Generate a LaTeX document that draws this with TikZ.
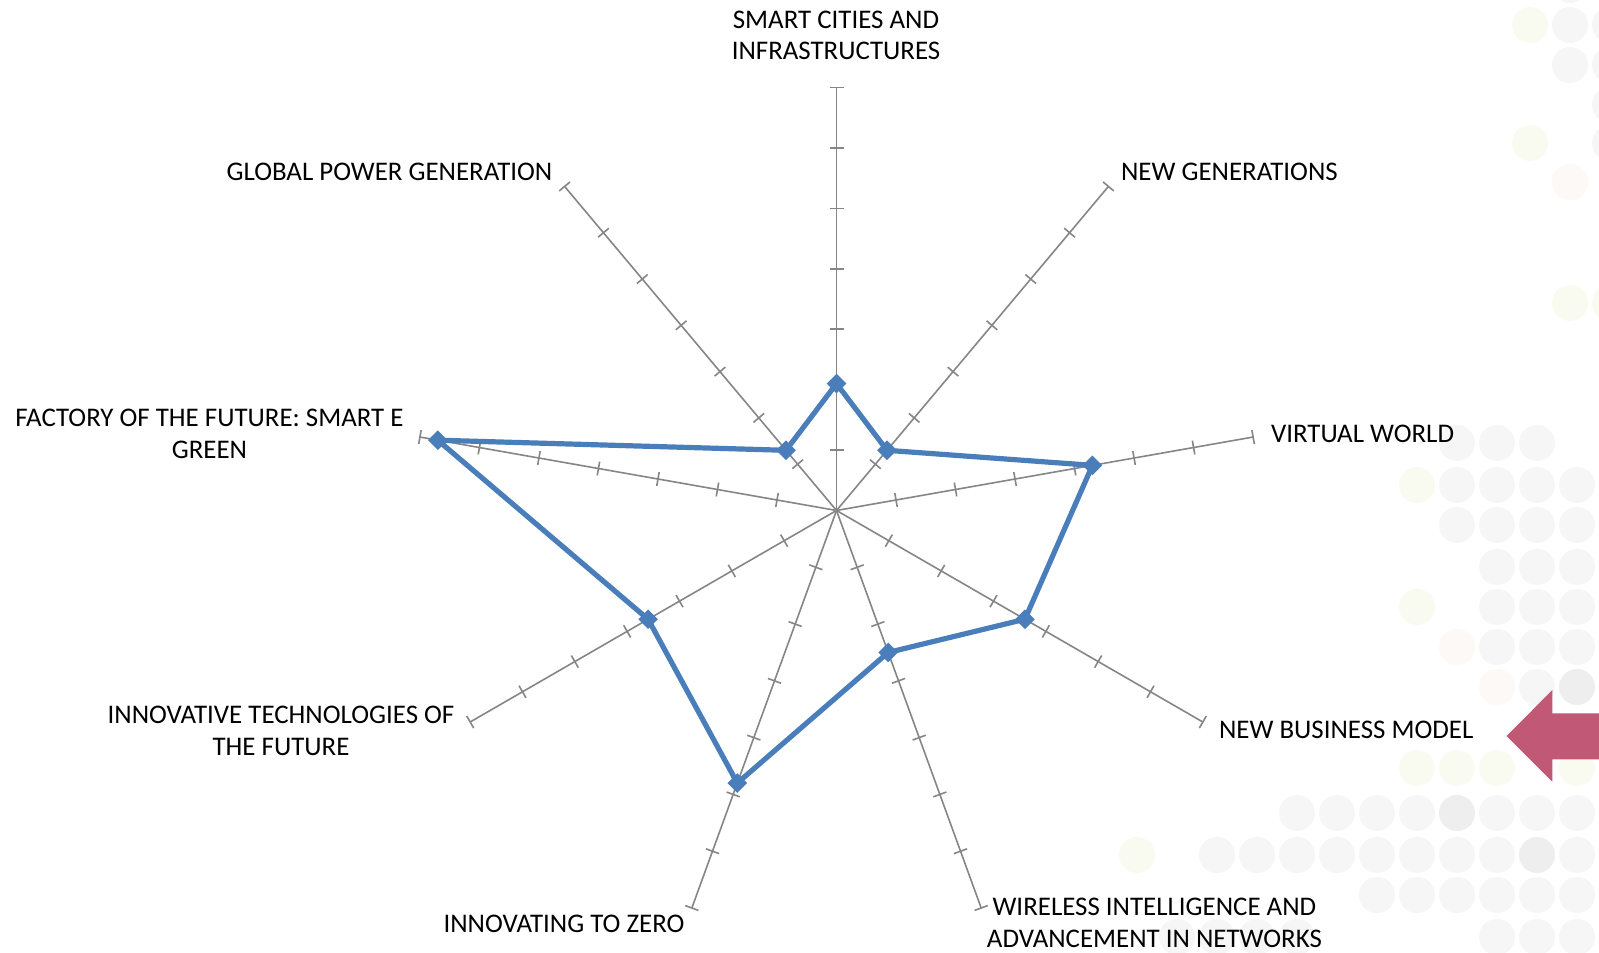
\documentclass[tikz,border=0pt]{standalone}
\usepackage{fontspec}
\setmainfont{Carlito}
\usetikzlibrary{shapes.geometric}

\definecolor{axisgray}{RGB}{134,134,134}
\definecolor{serieblue}{RGB}{74,126,187}
\definecolor{arrowpink}{RGB}{192,88,118}
\definecolor{dotgray}{RGB}{246,246,246}
\definecolor{dotdark}{RGB}{238,238,238}
\definecolor{dotyellow}{RGB}{250,251,240}
\definecolor{dotpink}{RGB}{253,249,246}

\begin{document}
\begin{tikzpicture}[x=0.5pt,y=0.5pt,
        axis/.style={draw=axisgray, line width=0.8pt},
        series/.style={draw=serieblue, line width=2.6pt, line join=round},
        marker/.style={diamond, fill=serieblue, inner sep=0pt, minimum size=10pt},
        lab/.style={font=\fontsize{13.45}{15.8}\selectfont, align=center, inner sep=0pt}]

            \fill[white] (0,0) rectangle (1599,952);
            \useasboundingbox (0,0) rectangle (1599,952);

            \foreach \dx/\dy/\dc in {1530/25/dotyellow, 1570/25/dotgray, 1610/25/dotgray, 1570/-15/dotgray,
                1570/65/dotgray, 1610/65/dotgray, 1610/105/dotgray, 1530/143/dotyellow, 1610/143/dotgray,
                1570/182/dotpink, 1570/303/dotyellow, 1610/303/dotyellow,
                1457/443/dotgray, 1497/443/dotgray, 1537/443/dotgray,
                1417/485/dotyellow, 1457/485/dotgray, 1497/485/dotgray, 1537/485/dotgray, 1577/485/dotgray,
                1457/525/dotgray, 1497/525/dotgray, 1537/525/dotgray, 1577/525/dotgray,
                1497/567/dotgray, 1537/567/dotgray, 1577/567/dotgray,
                1417/607/dotyellow, 1497/607/dotgray, 1537/607/dotgray, 1577/607/dotgray,
                1457/647/dotpink, 1497/647/dotgray, 1537/647/dotgray, 1577/647/dotgray,
                1497/687/dotpink, 1537/687/dotgray, 1577/687/dotdark,
                1417/768/dotyellow, 1457/768/dotyellow, 1497/768/dotyellow, 1577/768/dotyellow,
                1297/813/dotgray, 1337/813/dotgray, 1377/813/dotgray, 1417/813/dotgray, 1457/813/dotdark,
                1497/813/dotgray, 1537/813/dotgray, 1577/813/dotgray,
                1137/855/dotyellow, 1217/855/dotgray, 1257/855/dotgray, 1297/855/dotgray, 1337/855/dotgray,
                1377/855/dotgray, 1417/855/dotgray, 1457/855/dotgray, 1497/855/dotgray, 1537/855/dotdark, 1577/855/dotgray,
                1377/895/dotgray, 1417/895/dotgray, 1457/895/dotgray, 1497/895/dotgray, 1537/895/dotgray, 1577/895/dotgray,
                1177/937/dotgray, 1217/937/dotgray, 1257/937/dotgray, 1297/937/dotgray,
                1497/937/dotgray, 1537/937/dotgray, 1577/937/dotgray}
            {
                \fill[\dc] (\dx,952-\dy) circle[radius=9pt];
            }

            \fill[arrowpink] (1506.7,216) -- (1552.3,262) -- (1552.3,238.7) -- (1599,238.7)
                -- (1599,192.7) -- (1552.3,192.7) -- (1552.3,170.3) -- cycle;

            \coordinate (c) at (836.5,441.5);

            \foreach \a/\n in {90/smart,50/newgen,10/virtual,-30/business,-70/wireless,-110/zero,-150/innov,170/factory,130/global}
            {
                \coordinate (end-\n) at ([shift={(\a:423)}]c);
                \draw[axis] (c) -- (end-\n);
                \foreach \k in {1,...,7}
                {
                    \draw[axis] ([shift={(\a:\k*60.43)}]c) ++(\a+90:7) -- ++(\a-90:14);
                }
            }

            \foreach \a/\v/\n in {90/2.1/smart,50/1.3/newgen,10/4.3/virtual,-30/3.6/business,-70/2.5/wireless,-110/4.8/zero,-150/3.6/innov,170/6.7/factory,130/1.3/global}
            {
                \coordinate (p-\n) at ([shift={(\a:\v*60.43)}]c);
            }
            \draw[series] (p-smart) -- (p-newgen) -- (p-virtual) -- (p-business) -- (p-wireless)
                -- (p-zero) -- (p-innov) -- (p-factory) -- (p-global) -- cycle;
            \foreach \n in {smart,newgen,virtual,business,wireless,zero,innov,factory,global}
            {
                \node[marker] (m-\n) at (p-\n) {};
            }

            \node[lab] (l-smart) at (836,916.8) {SMART CITIES AND\\INFRASTRUCTURES};
            \node[lab, anchor=west] (l-newgen) at (1120.7,779.7) {NEW GENERATIONS};
            \node[lab, anchor=west] (l-virtual) at (1270.6,518.6) {VIRTUAL WORLD};
            \node[lab, anchor=west] (l-business) at (1218.6,222) {NEW BUSINESS MODEL};
            \node[lab] (l-wireless) at (1154.4,29.1) {WIRELESS INTELLIGENCE AND\\ADVANCEMENT IN NETWORKS};
            \node[lab] (l-zero) at (564,28) {INNOVATING TO ZERO};
            \node[lab] (l-innov) at (281,221.3) {INNOVATIVE TECHNOLOGIES OF\\THE FUTURE};
            \node[lab] (l-factory) at (209.5,518.1) {FACTORY OF THE FUTURE: SMART E\\GREEN};
            \node[lab, anchor=east] (l-global) at (552.7,779.7) {GLOBAL POWER GENERATION};
        \end{tikzpicture}
\end{document}
